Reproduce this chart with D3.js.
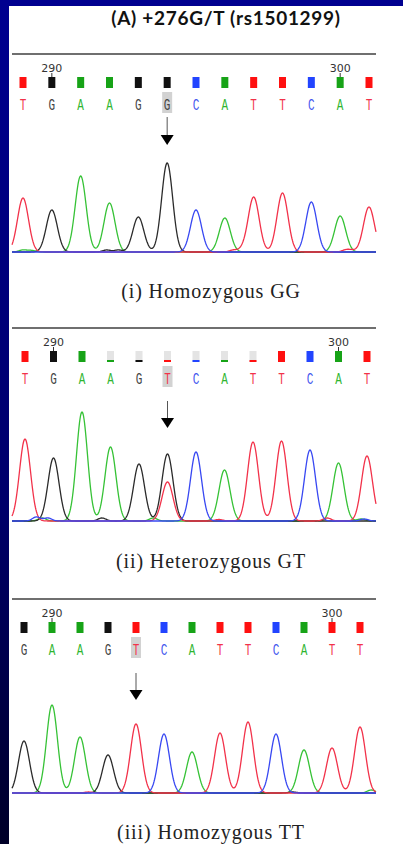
<!DOCTYPE html>
<html>
<head>
<meta charset="utf-8">
<script src="https://cdn.jsdelivr.net/npm/d3@7"></script>
<style>
  html, body { margin: 0; padding: 0; background: #fff; }
  svg { display: block; }
</style>
</head>
<body>
<svg id="chart" width="403" height="844"></svg>
<script>
// ---- data ----
const calls1 = ["T","G","A","A","G","G","C","A","T","T","C","A","T"];
const peakBases1 = ["T","G","A","A","G","G","C","A","T","T","C","A","T"];
const peakHeights1 = [54,42,76,49,35,89,42,34,55,59,50,36,45];
const extra1 = [];
const weak1 = [];
const noise1 = [["A",0,2],["A",0.3,1.5],["G",2.9,2],["G",3.3,2],["T",7.3,2],["T",7.6,2],["T",11.2,2],["T",11.4,1.5]];

const calls2 = ["T","G","A","A","G","T","C","A","T","T","C","A","T"];
const peakBases2 = ["T","G","A","A","G","G","C","A","T","T","C","A","T"];
const peakHeights2 = [82,63,109,74,57,67,69,51,79,80,71,58,65];
const extra2 = [["T",5,39]];
const weak2 = [3,4,5,6,7,8];
const noise2 = [["C",0.4,4],["C",0.8,3],["A",0.6,3],["G",2.7,3],["A",4.5,3],["T",6.8,1.5],["T",10.6,3],["A",11.8,2],["C",11.9,2]];

const calls3 = ["G","A","A","G","T","C","A","T","T","C","A","T","T"];
const peakBases3 = ["G","A","A","G","T","C","A","T","T","C","A","T","T"];
const peakHeights3 = [52,88,56,38,69,59,41,60,71,59,43,45,66];
const extra3 = [];
const weak3 = [];
const noise3 = [["T",2.3,1],["G",9.6,1],["A",12.4,3]];

const tickLabels = [[1,"290"],[11,"300"]];
const snpIndex = [5,5,4];
const captions = ["(i) Homozygous GG","(ii) Heterozygous GT","(iii) Homozygous TT"];

// ---- layout ----
const panels = [
  {calls:calls1, pb:peakBases1, ph:peakHeights1, extra:extra1, weak:weak1, noise:noise1,
   line:54, x0:23, x1:369, arrowTop:117, arrowBot:135, base:252, cap:298},
  {calls:calls2, pb:peakBases2, ph:peakHeights2, extra:extra2, weak:weak2, noise:noise2,
   line:328, x0:25, x1:367, arrowTop:401, arrowBot:418, base:521, cap:568},
  {calls:calls3, pb:peakBases3, ph:peakHeights3, extra:extra3, weak:weak3, noise:noise3,
   line:599, x0:24, x1:360, arrowTop:673, arrowBot:690, base:793, cap:839}
];

const traceColor = {A:"#36c236", C:"#3848f2", G:"#2b2b2b", T:"#f2324a"};
const boxColor = {A:"#17a317", C:"#2244ff", G:"#111", T:"#ff1010"};
const letterColor = {A:"#2fb52f", C:"#4455ee", G:"#444", T:"#f2324a"};

const svg = d3.select("#chart");

// frame
const grad = svg.append("defs").append("linearGradient")
  .attr("id","side").attr("x1",0).attr("y1",0).attr("x2",0).attr("y2",1);
grad.append("stop").attr("offset","0%").attr("stop-color","#000090");
grad.append("stop").attr("offset","60%").attr("stop-color","#00006a");
grad.append("stop").attr("offset","100%").attr("stop-color","#000028");
svg.append("rect").attr("x",0).attr("y",0).attr("width",9).attr("height",844).attr("fill","url(#side)");
svg.append("rect").attr("x",0).attr("y",0).attr("width",403).attr("height",6).attr("fill","#000090");

svg.append("text").attr("x",226).attr("y",25).attr("text-anchor","middle")
  .style("font-family","Lato, 'Open Sans', sans-serif").style("font-weight","bold")
  .style("font-size","19px").style("letter-spacing","0.7px")
  .attr("fill","#111").text("(A)  +276G/T (rs1501299)");

const sigma = 5.5;

panels.forEach(function (p, k) {
  const g = svg.append("g");
  const x = d3.scaleLinear().domain([0,12]).range([p.x0,p.x1]);
  const y = d3.scaleLinear().domain([0,100]).range([p.base,p.base-100]);
  const G = p.line;

  g.append("line").attr("x1",12).attr("x2",376).attr("y1",G).attr("y2",G)
    .attr("stroke","#6f6f6f").attr("stroke-width",2);

  tickLabels.forEach(function (t) {
    g.append("text").attr("x",x(t[0])).attr("y",G+18).attr("text-anchor","middle")
      .style("font-family","'DejaVu Sans', sans-serif").style("font-size","11px")
      .attr("fill","#333").text(t[1]);
    g.append("line").attr("x1",x(t[0])).attr("x2",x(t[0])).attr("y1",G+19).attr("y2",G+23)
      .attr("stroke","#333").attr("stroke-width",1);
  });

  p.calls.forEach(function (b, i) {
    const weak = p.weak.indexOf(i) >= 0;
    g.append("rect").attr("x",x(i)-3.5).attr("y",G+23).attr("width",7).attr("height",11)
      .attr("fill", weak ? "#e4e4e4" : boxColor[b]);
    if (weak) {
      g.append("rect").attr("x",x(i)-3.5).attr("y",G+32).attr("width",7).attr("height",2)
        .attr("fill", boxColor[b]);
    }
  });

  const si = snpIndex[k];
  g.append("rect").attr("x",x(si)-5).attr("y",G+38).attr("width",10).attr("height",21)
    .attr("fill","#d2d2d2");

  p.calls.forEach(function (b, i) {
    g.append("text")
      .attr("transform","translate(" + x(i) + "," + (G+56) + ") scale(1,1.55)")
      .attr("text-anchor","middle")
      .style("font-family","'Liberation Mono', monospace").style("font-size","11px")
      .attr("fill", letterColor[b]).text(b);
  });

  // arrow
  g.append("line").attr("x1",x(si)).attr("x2",x(si)).attr("y1",p.arrowTop).attr("y2",p.arrowBot)
    .attr("stroke","#555").attr("stroke-width",1);
  g.append("path")
    .attr("d","M" + (x(si)-6.5) + "," + p.arrowBot + "L" + (x(si)+6.5) + "," + p.arrowBot +
      "L" + x(si) + "," + (p.arrowBot+10) + "Z")
    .attr("fill","#000");

  // traces
  const peaks = [];
  p.pb.forEach(function (b, i) { peaks.push([b, i, p.ph[i], sigma]); });
  p.extra.forEach(function (e) { peaks.push([e[0], e[1], e[2], sigma]); });
  p.noise.forEach(function (e) { peaks.push([e[0], e[1], e[2], 4]); });

  const xs = d3.range(12, 376.01, 0.5);
  const line = d3.line().x(d => d[0]).y(d => y(d[1]));
  ["A","G","T","C"].forEach(function (ch) {
    const mine = peaks.filter(q => q[0] === ch);
    const pts = xs.map(function (px) {
      let v = 0;
      mine.forEach(function (q) {
        const d = px - x(q[1]);
        v += q[2] * Math.exp(-d*d/(2*q[3]*q[3]));
      });
      return [px, v];
    });
    g.append("path").attr("d", line(pts)).attr("fill","none")
      .attr("stroke", traceColor[ch]).attr("stroke-width",1.3);
  });

  g.append("text").attr("x",211).attr("y",p.cap).attr("text-anchor","middle")
    .style("font-family","'Liberation Serif', 'Times New Roman', serif").style("font-size","20px")
    .style("letter-spacing","0.9px")
    .attr("fill","#222").text(captions[k]);
});
</script>
</body>
</html>
